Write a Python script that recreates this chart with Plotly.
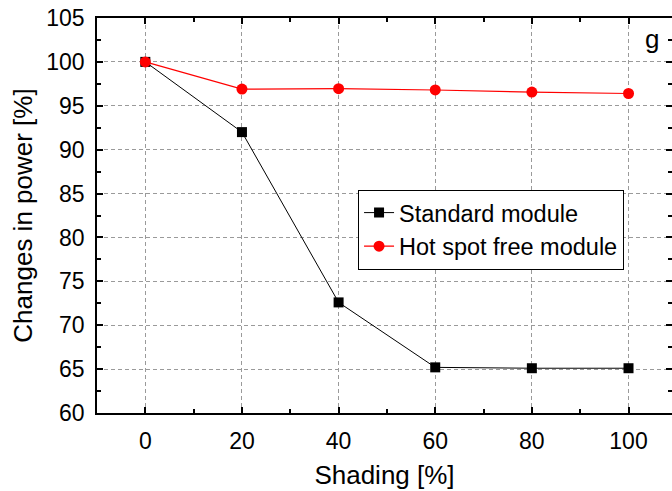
import plotly.graph_objects as go

# Shading level applied to the module (%)
shading = [0, 20, 40, 60, 80, 100]
# Relative output power (%) for each module type
standard_module = [100, 92.0, 72.6, 65.2, 65.1, 65.1]
hot_spot_free_module = [100, 96.9, 96.95, 96.8, 96.56, 96.4]

y_ticks = [60, 65, 70, 75, 80, 85, 90, 95, 100, 105]
x_ticks = [0, 20, 40, 60, 80, 100]

FONT = "Arial, Liberation Sans, sans-serif"

fig = go.Figure()

fig.add_trace(go.Scatter(
    x=shading, y=standard_module, name="Standard module",
    mode="lines+markers",
    line=dict(color="black", width=1),
    marker=dict(symbol="square", size=10, color="black"),
))
fig.add_trace(go.Scatter(
    x=shading, y=hot_spot_free_module, name="Hot spot free module",
    mode="lines+markers",
    line=dict(color="red", width=1.2),
    marker=dict(symbol="circle", size=11, color="red"),
))
# invisible trace that carries the right-hand tick marks
fig.add_trace(go.Scatter(x=[shading[0]], y=[y_ticks[0]], yaxis="y2",
                         mode="markers", marker=dict(opacity=0),
                         showlegend=False, hoverinfo="skip"))

grid = dict(showgrid=True, gridcolor="#9a9a9a", gridwidth=1, griddash="4px,3px")

fig.update_layout(
    width=672, height=491,
    margin=dict(l=97, r=0, t=18, b=78),
    paper_bgcolor="white", plot_bgcolor="white",
    font=dict(family=FONT, color="black"),
    xaxis=dict(
        range=[-10, 109], tickvals=x_ticks,
        ticks="inside", ticklen=6, tickwidth=1.5, tickcolor="black",
        minor=dict(dtick=10, tick0=0, ticks="inside", ticklen=4,
                   tickwidth=1.5, tickcolor="black", showgrid=False),
        showline=True, linecolor="black", linewidth=1.8, mirror="ticks",
        tickfont=dict(size=23), ticklabelstandoff=6,
        title=dict(text="Shading [%]", font=dict(size=26), standoff=13),
        zeroline=False, **grid,
    ),
    yaxis=dict(
        range=[60, 105], tickvals=y_ticks,
        ticks="inside", ticklen=6, tickwidth=1.5, tickcolor="black",
        minor=dict(dtick=2.5, tick0=60, ticks="inside", ticklen=4,
                   tickwidth=1.5, tickcolor="black", showgrid=False),
        showline=True, linecolor="black", linewidth=1.8, mirror=False,
        tickfont=dict(size=23), ticklabelstandoff=6,
        title=dict(text="Changes in power [%]", font=dict(size=26), standoff=6),
        zeroline=False, **grid,
    ),
    yaxis2=dict(
        overlaying="y", side="right", range=[60, 105], tickvals=y_ticks,
        ticks="inside", ticklen=6, tickwidth=1.5, tickcolor="black",
        minor=dict(dtick=2.5, tick0=60, ticks="inside", ticklen=4,
                   tickwidth=1.5, tickcolor="black"),
        showticklabels=False, showline=False, showgrid=False, zeroline=False,
    ),
    legend=dict(
        x=0.454, y=0.565, xanchor="left", yanchor="top",
        bgcolor="white", bordercolor="black", borderwidth=1,
        font=dict(size=23.5, family=FONT), tracegroupgap=0,
    ),
    showlegend=True,
)

fig.add_annotation(text="g", xref="paper", yref="paper", x=0.966, y=0.947,
                   xanchor="center", yanchor="middle", showarrow=False,
                   font=dict(size=26, family=FONT, color="black"))

fig.write_html("out.html")
